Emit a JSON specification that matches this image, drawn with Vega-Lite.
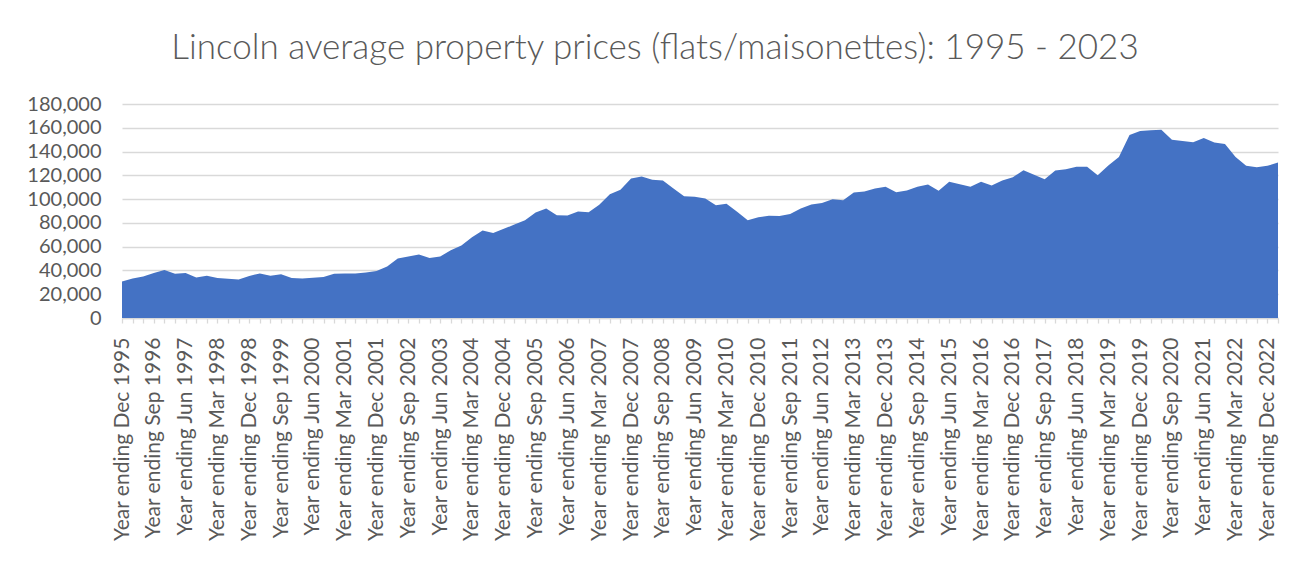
{
  "$schema": "https://vega.github.io/schema/vega-lite/v6.json",
  "width": 1156,
  "height": 214,
  "autosize": {"type": "none"},
  "padding": {"left": 122, "top": 104, "right": 30, "bottom": 246},
  "background": "white",
  "title": {
    "text": "Lincoln average property prices (flats/maisonettes): 1995 - 2023",
    "font": "Lato",
    "fontSize": 35,
    "fontWeight": 300,
    "color": "#595959",
    "anchor": "middle",
    "dx": -45,
    "offset": 28
  },
  "config": {"view": {"stroke": null}},
  "data": {
    "values": [
      {"period": "Year ending Dec 1995", "price": 30700},
      {"period": "Year ending Mar 1996", "price": 33300},
      {"period": "Year ending Jun 1996", "price": 35000},
      {"period": "Year ending Sep 1996", "price": 37800},
      {"period": "Year ending Dec 1996", "price": 40300},
      {"period": "Year ending Mar 1997", "price": 37200},
      {"period": "Year ending Jun 1997", "price": 37800},
      {"period": "Year ending Sep 1997", "price": 34100},
      {"period": "Year ending Dec 1997", "price": 35500},
      {"period": "Year ending Mar 1998", "price": 33600},
      {"period": "Year ending Jun 1998", "price": 33000},
      {"period": "Year ending Sep 1998", "price": 32400},
      {"period": "Year ending Dec 1998", "price": 35300},
      {"period": "Year ending Mar 1999", "price": 37500},
      {"period": "Year ending Jun 1999", "price": 35500},
      {"period": "Year ending Sep 1999", "price": 36800},
      {"period": "Year ending Dec 1999", "price": 33600},
      {"period": "Year ending Mar 2000", "price": 33300},
      {"period": "Year ending Jun 2000", "price": 33800},
      {"period": "Year ending Sep 2000", "price": 34400},
      {"period": "Year ending Dec 2000", "price": 37200},
      {"period": "Year ending Mar 2001", "price": 37500},
      {"period": "Year ending Jun 2001", "price": 37500},
      {"period": "Year ending Sep 2001", "price": 38300},
      {"period": "Year ending Dec 2001", "price": 39500},
      {"period": "Year ending Mar 2002", "price": 43300},
      {"period": "Year ending Jun 2002", "price": 50000},
      {"period": "Year ending Sep 2002", "price": 51700},
      {"period": "Year ending Dec 2002", "price": 53400},
      {"period": "Year ending Mar 2003", "price": 50400},
      {"period": "Year ending Jun 2003", "price": 51700},
      {"period": "Year ending Sep 2003", "price": 57000},
      {"period": "Year ending Dec 2003", "price": 61000},
      {"period": "Year ending Mar 2004", "price": 68000},
      {"period": "Year ending Jun 2004", "price": 73600},
      {"period": "Year ending Sep 2004", "price": 71600},
      {"period": "Year ending Dec 2004", "price": 75000},
      {"period": "Year ending Mar 2005", "price": 78600},
      {"period": "Year ending Jun 2005", "price": 82300},
      {"period": "Year ending Sep 2005", "price": 88700},
      {"period": "Year ending Dec 2005", "price": 92000},
      {"period": "Year ending Mar 2006", "price": 86500},
      {"period": "Year ending Jun 2006", "price": 86200},
      {"period": "Year ending Sep 2006", "price": 89500},
      {"period": "Year ending Dec 2006", "price": 89000},
      {"period": "Year ending Mar 2007", "price": 95200},
      {"period": "Year ending Jun 2007", "price": 104000},
      {"period": "Year ending Sep 2007", "price": 107800},
      {"period": "Year ending Dec 2007", "price": 117300},
      {"period": "Year ending Mar 2008", "price": 119000},
      {"period": "Year ending Jun 2008", "price": 116200},
      {"period": "Year ending Sep 2008", "price": 115600},
      {"period": "Year ending Dec 2008", "price": 108900},
      {"period": "Year ending Mar 2009", "price": 102500},
      {"period": "Year ending Jun 2009", "price": 101900},
      {"period": "Year ending Sep 2009", "price": 100500},
      {"period": "Year ending Dec 2009", "price": 94900},
      {"period": "Year ending Mar 2010", "price": 96000},
      {"period": "Year ending Jun 2010", "price": 89300},
      {"period": "Year ending Sep 2010", "price": 82300},
      {"period": "Year ending Dec 2010", "price": 84800},
      {"period": "Year ending Mar 2011", "price": 85900},
      {"period": "Year ending Jun 2011", "price": 85700},
      {"period": "Year ending Sep 2011", "price": 87400},
      {"period": "Year ending Dec 2011", "price": 92000},
      {"period": "Year ending Mar 2012", "price": 95400},
      {"period": "Year ending Jun 2012", "price": 96800},
      {"period": "Year ending Sep 2012", "price": 99900},
      {"period": "Year ending Dec 2012", "price": 99100},
      {"period": "Year ending Mar 2013", "price": 105500},
      {"period": "Year ending Jun 2013", "price": 106300},
      {"period": "Year ending Sep 2013", "price": 108900},
      {"period": "Year ending Dec 2013", "price": 110300},
      {"period": "Year ending Mar 2014", "price": 105800},
      {"period": "Year ending Jun 2014", "price": 107200},
      {"period": "Year ending Sep 2014", "price": 110300},
      {"period": "Year ending Dec 2014", "price": 112200},
      {"period": "Year ending Mar 2015", "price": 107000},
      {"period": "Year ending Jun 2015", "price": 114500},
      {"period": "Year ending Sep 2015", "price": 112500},
      {"period": "Year ending Dec 2015", "price": 110500},
      {"period": "Year ending Mar 2016", "price": 114500},
      {"period": "Year ending Jun 2016", "price": 111400},
      {"period": "Year ending Sep 2016", "price": 115600},
      {"period": "Year ending Dec 2016", "price": 118400},
      {"period": "Year ending Mar 2017", "price": 124300},
      {"period": "Year ending Jun 2017", "price": 120400},
      {"period": "Year ending Sep 2017", "price": 116800},
      {"period": "Year ending Dec 2017", "price": 124000},
      {"period": "Year ending Mar 2018", "price": 125100},
      {"period": "Year ending Jun 2018", "price": 127300},
      {"period": "Year ending Sep 2018", "price": 127300},
      {"period": "Year ending Dec 2018", "price": 120100},
      {"period": "Year ending Mar 2019", "price": 128300},
      {"period": "Year ending Jun 2019", "price": 135500},
      {"period": "Year ending Sep 2019", "price": 154000},
      {"period": "Year ending Dec 2019", "price": 157300},
      {"period": "Year ending Mar 2020", "price": 158000},
      {"period": "Year ending Jun 2020", "price": 158300},
      {"period": "Year ending Sep 2020", "price": 150000},
      {"period": "Year ending Dec 2020", "price": 148800},
      {"period": "Year ending Mar 2021", "price": 147800},
      {"period": "Year ending Jun 2021", "price": 151300},
      {"period": "Year ending Sep 2021", "price": 147600},
      {"period": "Year ending Dec 2021", "price": 146300},
      {"period": "Year ending Mar 2022", "price": 135500},
      {"period": "Year ending Jun 2022", "price": 128000},
      {"period": "Year ending Sep 2022", "price": 126800},
      {"period": "Year ending Dec 2022", "price": 128000},
      {"period": "Year ending Mar 2023", "price": 130700}
    ]
  },
  "mark": {"type": "area", "color": "#4472C4", "interpolate": "linear"},
  "encoding": {
    "x": {
      "field": "period",
      "type": "ordinal",
      "sort": null,
      "scale": {"type": "point", "padding": 0},
      "axis": {
        "title": null,
        "labelAngle": -90,
        "labelFont": "Lato",
        "labelFontSize": 21,
        "labelColor": "#595959",
        "labelLimit": 0,
        "labelExpr": "((toNumber(slice(datum.value, 16)) - 1996) * 4 + indexof(['Mar','Jun','Sep','Dec'], slice(datum.value, 12, 15)) + 1) % 3 == 0 ? datum.label : ''",
        "labelOverlap": false,
        "labelBound": false,
        "labelPadding": 14,
        "domainColor": "#d9d9d9",
        "domainWidth": 1.3,
        "tickColor": "#d9d9d9",
        "tickWidth": 1.3,
        "tickSize": 5,
        "grid": false
      }
    },
    "y": {
      "field": "price",
      "type": "quantitative",
      "scale": {"domain": [0, 180000]},
      "axis": {
        "title": null,
        "values": [0, 20000, 40000, 60000, 80000, 100000, 120000, 140000, 160000, 180000],
        "format": ",d",
        "labelFont": "Lato",
        "labelFontSize": 20,
        "labelColor": "#595959",
        "labelPadding": 21,
        "domain": false,
        "ticks": false,
        "gridColor": "#d9d9d9",
        "gridWidth": 1.3
      }
    }
  }
}
